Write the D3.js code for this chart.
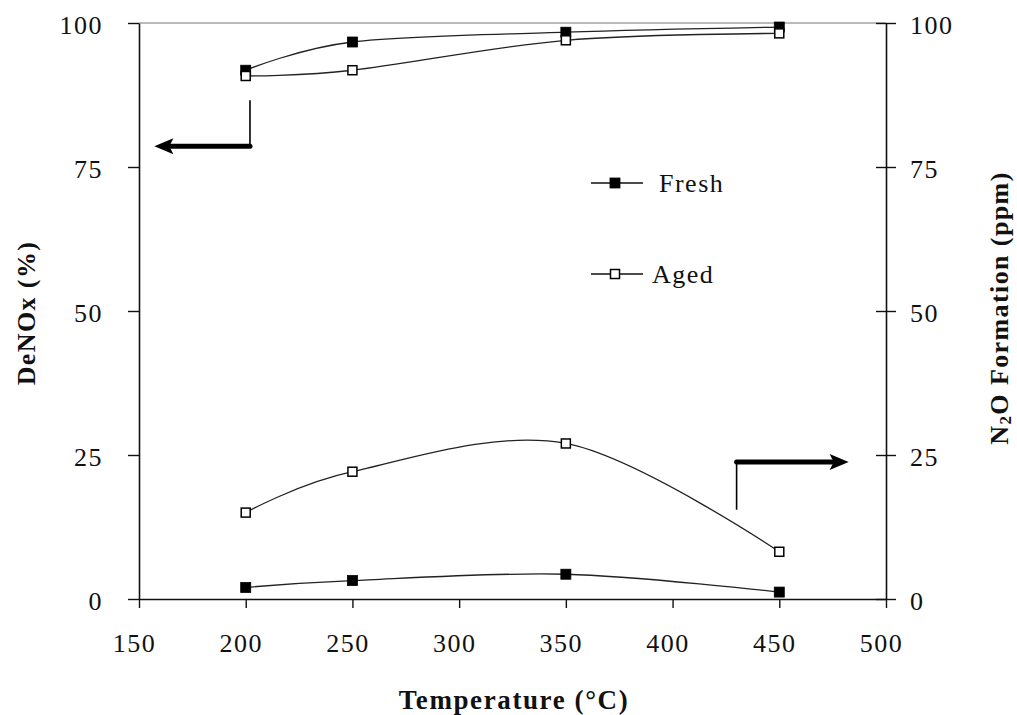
<!DOCTYPE html>
<html>
<head>
<meta charset="utf-8">
<script src="https://cdn.jsdelivr.net/npm/d3@7/dist/d3.min.js"></script>
<style>
  html, body { margin: 0; padding: 0; background: #fff; }
  svg { display: block; }
  text { font-family: "Liberation Serif", "Times New Roman", serif; fill: #111; }
</style>
</head>
<body>
<svg id="chart" width="1017" height="715"></svg>
<script>
// Reaction temperatures (°C)
const temperatures = [200, 250, 350, 450];
// NOx conversion (%), left axis
const deNOxFresh = [91.8, 96.7, 98.4, 99.3];
const deNOxAged  = [90.8, 91.8, 97.0, 98.2];
// N2O formation (ppm), right axis
const n2oFresh = [2.0, 3.2, 4.3, 1.2];
const n2oAged  = [15.0, 22.1, 27.0, 8.2];
// Axis ticks
const xTicks = [150, 200, 250, 300, 350, 400, 450, 500];
const yTicks = [0, 25, 50, 75, 100];

const svg = d3.select("#chart");
const plotLeft = 139, plotRight = 886, plotTop = 23, plotBottom = 599;

const x = d3.scaleLinear().domain([150, 500]).range([plotLeft, plotRight]);
const yL = d3.scaleLinear().domain([0, 100]).range([plotBottom, plotTop]);
const yR = d3.scaleLinear().domain([0, 100]).range([plotBottom, plotTop]);

const tickFont = 26, tickSpacing = 1.5;

// top frame line
svg.append("line")
  .attr("x1", plotLeft).attr("x2", plotRight).attr("y1", plotTop).attr("y2", plotTop)
  .attr("stroke", "#777").attr("stroke-width", 1.2);

// bottom axis
const gx = svg.append("g").attr("transform", `translate(0,${plotBottom})`)
  .call(d3.axisBottom(x).tickValues(xTicks).tickSize(9).tickSizeOuter(0).tickFormat(d3.format("d")));
gx.select(".domain").attr("stroke", "#111").attr("stroke-width", 1.6);
gx.selectAll(".tick line").attr("stroke", "#111").attr("stroke-width", 1.4);
gx.selectAll(".tick text")
  .attr("y", 0).attr("dy", 0)
  .attr("transform", "translate(-5,53)")
  .style("font-size", tickFont + "px").style("letter-spacing", tickSpacing + "px")
  .attr("fill", "#111");

// left axis
const gyl = svg.append("g").attr("transform", `translate(${plotLeft},0)`)
  .call(d3.axisLeft(yL).tickValues(yTicks).tickSize(11).tickSizeOuter(0));
gyl.select(".domain").attr("stroke", "#111").attr("stroke-width", 1.6);
gyl.selectAll(".tick line").attr("stroke", "#111").attr("stroke-width", 1.4);
gyl.selectAll(".tick text")
  .attr("x", -36).attr("dy", "0.4em")
  .style("font-size", tickFont + "px").style("letter-spacing", tickSpacing + "px")
  .attr("fill", "#111");

// right axis with crossing ticks
const gyr = svg.append("g").attr("transform", `translate(${plotRight},0)`)
  .call(d3.axisRight(yR).tickValues(yTicks).tickSize(10).tickSizeOuter(0));
gyr.select(".domain").attr("stroke", "#111").attr("stroke-width", 1.6);
gyr.selectAll(".tick line").attr("x1", -10).attr("stroke", "#111").attr("stroke-width", 1.4);
gyr.selectAll(".tick text")
  .attr("x", 24).attr("dy", "0.4em")
  .style("font-size", tickFont + "px").style("letter-spacing", tickSpacing + "px")
  .attr("fill", "#111");

// axis titles
svg.append("text")
  .attr("x", 514).attr("y", 709).attr("text-anchor", "middle")
  .style("font-size", "27px").style("font-weight", "bold").style("letter-spacing", "1.6px")
  .text("Temperature (°C)");

svg.append("text")
  .attr("transform", "translate(35,313) rotate(-90)").attr("text-anchor", "middle")
  .style("font-size", "26px").style("font-weight", "bold").style("letter-spacing", "1.4px")
  .text("DeNOx (%)");

const rt = svg.append("text")
  .attr("transform", "translate(1008,308) rotate(-90)").attr("text-anchor", "middle")
  .style("font-size", "26px").style("font-weight", "bold").style("letter-spacing", "1.4px");
rt.append("tspan").text("N");
rt.append("tspan").text("2").style("font-size", "17px").attr("dy", 3);
rt.append("tspan").text("O Formation (ppm)").attr("dy", -3);

// smoothed series lines
const curve = d3.curveCardinal.tension(0);
const series = [
  { values: deNOxFresh, scale: yL, filled: true },
  { values: deNOxAged,  scale: yL, filled: false },
  { values: n2oFresh,   scale: yR, filled: true },
  { values: n2oAged,    scale: yR, filled: false }
];

series.forEach(s => {
  const pts = temperatures.map((t, i) => [t, s.values[i]]);
  const line = d3.line().x(d => x(d[0])).y(d => s.scale(d[1])).curve(curve);
  svg.append("path").attr("d", line(pts))
    .attr("fill", "none").attr("stroke", "#222").attr("stroke-width", 1.3);
});

series.forEach(s => {
  const size = s.filled ? 10 : 9;
  svg.append("g").selectAll("rect").data(temperatures.map((t, i) => [t, s.values[i]]))
    .join("rect")
    .attr("x", d => x(d[0]) - size / 2).attr("y", d => s.scale(d[1]) - size / 2)
    .attr("width", size).attr("height", size)
    .attr("fill", s.filled ? "#000" : "#fff")
    .attr("stroke", "#000").attr("stroke-width", s.filled ? 0.8 : 1.5);
});

// legend
const legend = [
  { label: "Fresh", filled: true, y: 183, tx: 659 },
  { label: "Aged", filled: false, y: 274, tx: 652 }
];
legend.forEach(l => {
  svg.append("line").attr("x1", 591).attr("x2", 643).attr("y1", l.y).attr("y2", l.y)
    .attr("stroke", "#111").attr("stroke-width", 1.3);
  const size = l.filled ? 10 : 9;
  svg.append("rect").attr("x", 615 - size / 2).attr("y", l.y - size / 2)
    .attr("width", size).attr("height", size)
    .attr("fill", l.filled ? "#000" : "#fff").attr("stroke", "#000")
    .attr("stroke-width", l.filled ? 0.8 : 1.5);
  svg.append("text").attr("x", l.tx).attr("y", l.y + 8.5)
    .style("font-size", "26px").style("letter-spacing", "1.5px")
    .text(l.label);
});

// arrows pointing to each series' axis
function arrow(xStart, yTop, yBend, xTip, dir) {
  svg.append("line").attr("x1", xStart).attr("x2", xStart).attr("y1", yTop).attr("y2", yBend)
    .attr("stroke", "#000").attr("stroke-width", 1.6);
  const headBack = xTip - dir * 19;
  svg.append("line").attr("x1", xStart).attr("x2", headBack + dir * 2).attr("y1", yBend).attr("y2", yBend)
    .attr("stroke", "#000").attr("stroke-width", 5).attr("stroke-linecap", "round");
  svg.append("path")
    .attr("d", `M${xTip},${yBend} L${headBack},${yBend - 8} L${headBack + dir * 4},${yBend} L${headBack},${yBend + 8} Z`)
    .attr("fill", "#000");
}
arrow(x(202), yL(86.6), yL(78.6), x(157.2), -1);
arrow(x(430), yR(15.5), yR(23.8), x(482.5), 1);
</script>
</body>
</html>
